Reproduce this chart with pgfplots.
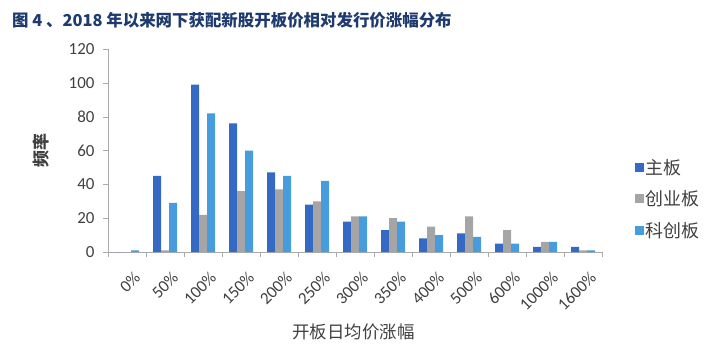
\documentclass[border=0pt]{standalone}
\usepackage{pgfplots}
\pgfplotsset{compat=1.18}
\usepackage{fontspec}
\setmainfont{Carlito}
\newfontfamily\cfont{Carlito}
\newfontfamily\cjk{Noto Sans CJK SC}
\definecolor{zhu}{RGB}{52,106,196}
\definecolor{chuang}{RGB}{165,165,165}
\definecolor{ke}{RGB}{70,156,220}
\definecolor{titlec}{RGB}{30,58,110}
\definecolor{axisc}{RGB}{170,170,170}
\definecolor{textc}{RGB}{64,64,64}
\newcommand{\tfont}{\fontsize{17}{20}\cfont}
\begin{document}
\begin{tikzpicture}[x=1bp,y=1bp]
\useasboundingbox (0,0) rectangle (720,351);
\node[anchor=west, text=titlec, font=\cjk\bfseries\fontsize{16.5}{19}\selectfont, inner sep=0pt] at (12,331) {图 4 、2018 年以来网下获配新股开板价相对发行价涨幅分布};
\begin{axis}[
  at={(108bp,99bp)}, anchor=south west,
  scale only axis, width=494bp, height=203bp,
  xmin=-0.5, xmax=12.5, ymin=0, ymax=120,
  ytick={0,20,...,120},
  yticklabel={\pgfmathprintnumber[assume math mode=true]{\tick}},
  xtick={0,...,12},
  xticklabels={0\%,50\%,100\%,150\%,200\%,250\%,300\%,350\%,400\%,500\%,600\%,1000\%,1600\%},
  minor xtick={-0.5,0.5,...,12.5},
  major x tick style={draw=none},
  minor tick length=5bp, major tick length=5bp,
  tick align=outside,
  axis x line*=bottom, axis y line*=left,
  axis line style={axisc, -},
  tick style={axisc},
  every tick label/.append style={font=\tfont},
  yticklabel shift=5bp,
  yticklabel style={font=\tfont, text=textc},
  xticklabel style={font=\tfont, text=textc, rotate=45, anchor=east, xshift=-2bp, yshift=-20bp},
  ylabel={\cjk\bfseries 频率},
  ylabel style={at={(axis description cs:-0.135,0.5)}, anchor=center, font=\fontsize{17}{20}\selectfont, text=textc},
  xlabel={\cjk 开板日均价涨幅},
  xlabel style={at={(axis description cs:0.497,-0.395)}, anchor=center, font=\fontsize{17.5}{20}\selectfont, text=textc},
  ybar, bar width=8bp,
  legend style={at={(1.066,0.262)}, anchor=west, draw=none, fill=none,
    font=\cjk\fontsize{18}{21}\selectfont, text=textc, row sep=11bp, inner sep=0pt},
  legend cell align=left,
  legend image code/.code={\fill[#1] (0bp,-4.5bp) rectangle (9bp,4.5bp);},
]
\addplot[fill=zhu, draw=none, bar shift=-8bp] coordinates {(0,0) (1,45) (2,99) (3,76) (4,47) (5,28) (6,18) (7,13) (8,8) (9,11) (10,5) (11,3) (12,3)};
\addplot[fill=chuang, draw=none, bar shift=0bp] coordinates {(0,0) (1,1) (2,22) (3,36) (4,37) (5,30) (6,21) (7,20) (8,15) (9,21) (10,13) (11,6) (12,1)};
\addplot[fill=ke, draw=none, bar shift=8bp] coordinates {(0,1) (1,29) (2,82) (3,60) (4,45) (5,42) (6,21) (7,18) (8,10) (9,9) (10,5) (11,6) (12,1)};
\legend{主板,创业板,科创板}
\end{axis}
\end{tikzpicture}
\end{document}
